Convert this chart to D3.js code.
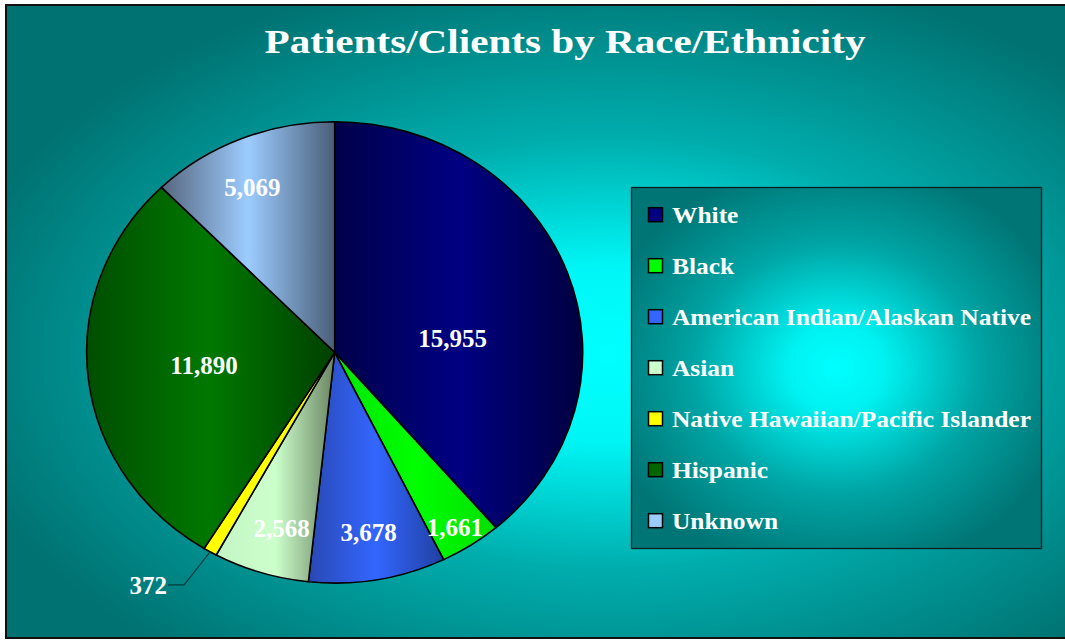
<!DOCTYPE html>
<html>
<head>
<meta charset="utf-8">
<script src="https://cdn.jsdelivr.net/npm/d3@7"></script>
<style>
  html,body{margin:0;padding:0;background:#fff;}
  text{font-family:"Liberation Serif","DejaVu Serif",serif;font-weight:bold;fill:#fff;}
</style>
</head>
<body>
<svg id="chart" width="1065" height="641"></svg>
<script>
// data
const categories = ["White","Black","American Indian/Alaskan Native","Asian","Native Hawaiian/Pacific Islander","Hispanic","Unknown"];
const values = [15955,1661,3678,2568,372,11890,5069];
const title = "Patients/Clients by Race/Ethnicity";

// slice shading: edge, middle, other edge
const sliceColors = [
  ["#00004a","#000082","#000040"],
  ["#00e600","#00ff00","#00e000"],
  ["#2a48b4","#3366ff","#2040a0"],
  ["#c4f4c4","#ccffcc","#6a8462"],
  ["#ffff00","#ffff00","#f0f000"],
  ["#004e00","#007800","#004000"],
  ["#56667e","#9cccff","#4a5e78"]
];
const swatch = ["#000080","#00ff00","#3366ff","#ccffcc","#ffff00","#006600","#99ccff"];
// label placement: radius fraction and angle nudge (deg)
const labelR = [0.48,0.9,0.79,0.79,0,0.53,0.79];
const labelShift = [12.8,0.7,0,-1.6,0,0,-2.7];

const svg = d3.select("#chart");
const defs = svg.append("defs");

const bg = defs.append("radialGradient").attr("id","bg")
  .attr("cx","0.56").attr("cy","0.55").attr("r","0.62");
bg.append("stop").attr("offset","0").attr("stop-color","#00ffff");
bg.append("stop").attr("offset","0.22").attr("stop-color","#00f6f6");
bg.append("stop").attr("offset","0.55").attr("stop-color","#00adad");
bg.append("stop").attr("offset","1").attr("stop-color","#007272");

const lg = defs.append("radialGradient").attr("id","lgbg")
  .attr("cx","0.5").attr("cy","0.5").attr("r","0.58");
lg.append("stop").attr("offset","0").attr("stop-color","#00ffff");
lg.append("stop").attr("offset","0.2").attr("stop-color","#00f2f2");
lg.append("stop").attr("offset","0.6").attr("stop-color","#00a4a4");
lg.append("stop").attr("offset","1").attr("stop-color","#007575");

svg.append("rect").attr("x",6).attr("y",5).attr("width",1075).attr("height",633)
  .attr("fill","url(#bg)").attr("stroke","#111").attr("stroke-width",2);

const titleText = svg.append("text").attr("x",565).attr("y",53)
  .attr("text-anchor","middle").attr("font-size",34).text(title);
titleText.attr("textLength",601).attr("lengthAdjust","spacingAndGlyphs");

// pie
const cx = 334.7, cy = 352.4, R = 248, yk = 0.93;
const pie = d3.pie().sort(null).value(d=>d);
const arcs = pie(values);
const arc = d3.arc().innerRadius(0).outerRadius(R);

sliceColors.forEach((c,i)=>{
  const g = defs.append("linearGradient").attr("id","sl"+i)
    .attr("x1","0").attr("y1","0").attr("x2","1").attr("y2","0");
  g.append("stop").attr("offset","0").attr("stop-color",c[0]);
  g.append("stop").attr("offset","0.5").attr("stop-color",c[1]);
  g.append("stop").attr("offset","1").attr("stop-color",c[2]);
});

const pg = svg.append("g").attr("transform",`translate(${cx},${cy}) scale(1,${yk})`);
pg.selectAll("path").data(arcs).join("path")
  .attr("d",arc)
  .attr("fill",(d,i)=>`url(#sl${i})`)
  .attr("stroke","#000").attr("stroke-width",1.6)
  .attr("stroke-linejoin","round")
  .attr("vector-effect","non-scaling-stroke");

const fmt = d3.format(",");
const polar = (deg,r)=>{
  const a = deg*Math.PI/180;
  return [cx + r*Math.sin(a), cy - r*Math.cos(a)*yk];
};

arcs.forEach((d,i)=>{
  const mid = (d.startAngle+d.endAngle)/2*180/Math.PI;
  if (labelR[i] > 0) {
    const [x,y] = polar(mid+labelShift[i], labelR[i]*R);
    svg.append("text").attr("x",x).attr("y",y).attr("dy","0.35em")
      .attr("text-anchor","middle").attr("font-size",25).text(fmt(values[i]));
  } else {
    // leader line label
    const [x0,y0] = polar(mid, R);
    const ex = x0-26, ey = y0+33;
    svg.append("path").attr("d",`M${x0},${y0}L${ex},${ey}L${ex-16},${ey}`)
      .attr("fill","none").attr("stroke","#003c3c").attr("stroke-width",1.2);
    svg.append("text").attr("x",ex-17).attr("y",ey).attr("dy","0.35em")
      .attr("text-anchor","end").attr("font-size",25).text(fmt(values[i]));
  }
});

// legend
const lx = 631.5, ly = 187.5, lw = 410, lh = 361;
svg.append("rect").attr("x",lx).attr("y",ly).attr("width",lw).attr("height",lh)
  .attr("fill","url(#lgbg)").attr("stroke","#0a2020").attr("stroke-width",1.3);

const ys = d3.scalePoint().domain(categories).range([214.7,520.7]);
const items = svg.append("g").selectAll("g").data(categories).join("g")
  .attr("transform",d=>`translate(0,${ys(d)})`);
items.append("rect").attr("x",648.5).attr("y",-7).attr("width",14).attr("height",14)
  .attr("fill",(d,i)=>swatch[i]).attr("stroke","#000").attr("stroke-width",1.5);
const ltext = items.append("text").attr("x",672).attr("y",0).attr("dy","0.36em")
  .attr("font-size",22.5).text(d=>d);
let maxLen = 0;
ltext.each(function(){ maxLen = Math.max(maxLen, this.getComputedTextLength()); });
const k = 359/maxLen;
ltext.each(function(){ d3.select(this).attr("textLength", this.getComputedTextLength()*k).attr("lengthAdjust","spacingAndGlyphs"); });
</script>
</body>
</html>
